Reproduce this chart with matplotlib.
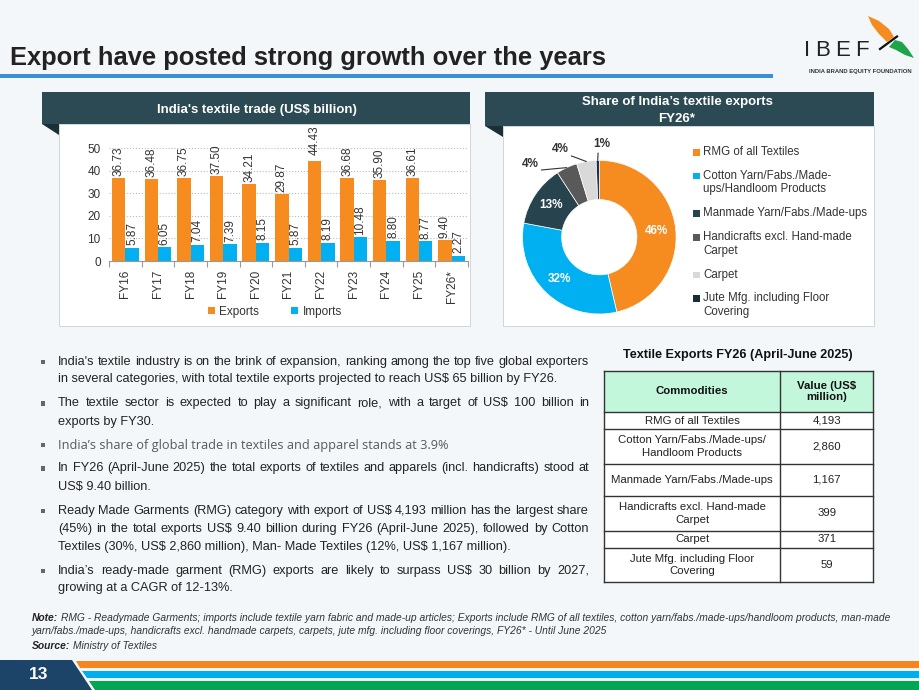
import numpy as np
import matplotlib.pyplot as plt
from matplotlib.patches import Rectangle, Polygon

plt.rcParams['font.family'] = ['Liberation Sans', 'DejaVu Sans']
plt.rcParams['text.parse_math'] = False

# ---- data ----
years = ['FY16', 'FY17', 'FY18', 'FY19', 'FY20', 'FY21', 'FY22', 'FY23', 'FY24', 'FY25', 'FY26*']
exports = [36.73, 36.48, 36.75, 37.50, 34.21, 29.87, 44.43, 36.68, 35.90, 36.61, 9.40]
imports = [5.87, 6.05, 7.04, 7.39, 8.15, 5.87, 8.19, 10.48, 8.80, 8.77, 2.27]
# label lift above the bar top (value units), FY22 label sits a bit higher in the original
export_lift = [0.9, 0.9, 0.9, 0.9, 0.9, 0.9, 2.6, 0.9, 0.9, 0.9, 0.9]

share_values = [4193, 2860, 1167, 399, 371, 59]
legend_labels = ['RMG of all Textiles',
                 'Cotton Yarn/Fabs./Made-\nups/Handloom Products',
                 'Manmade Yarn/Fabs./Made-ups',
                 'Handicrafts excl. Hand-made\nCarpet',
                 'Carpet',
                 'Jute Mfg. including Floor\nCovering']
table_labels = ['RMG of all Textiles',
                'Cotton Yarn/Fabs./Made-ups/\nHandloom Products',
                'Manmade Yarn/Fabs./Made-ups',
                'Handicrafts excl. Hand-made\nCarpet',
                'Carpet',
                'Jute Mfg. including Floor\nCovering']
share_colors = ['#F68B1F', '#00B0F0', '#27434D', '#595959', '#D9D9D9', '#1C2B3C']

bullets = [
    ["India's textile industry is on the brink of expansion, ranking among the top five global exporters",
     "in several categories, with total textile exports projected to reach US$ 65 billion by FY26."],
    ["The textile sector is expected to play a significant role, with a target of US$ 100 billion in",
     "exports by FY30."],
    ["India\u2019s share of global trade in textiles and apparel stands at 3.9%"],
    ["In FY26 (April-June 2025) the total exports of textiles and apparels (incl. handicrafts) stood at",
     "US$ 9.40 billion."],
    ["Ready Made Garments (RMG) category with export of US$ 4,193 million has the largest share",
     "(45%) in the total exports US$ 9.40 billion during FY26 (April-June 2025), followed by Cotton",
     "Textiles (30%, US$ 2,860 million), Man- Made Textiles (12%, US$ 1,167 million)."],
    ["India\u2019s ready-made garment (RMG) exports are likely to surpass US$ 30 billion by 2027,",
     "growing at a CAGR of 12-13%."],
]
bullet_y = [[361.7, 379.3], [403.3, 421.7], [445], [468.3, 486.7], [510.7, 529, 547.3], [570.7, 588.3]]

BG = '#f4f7f9'
HEAD = '#2B4A54'
FOLD = '#1B2F36'
ORANGE = '#F68B1F'
BLUE = '#00B0F0'

fig = plt.figure(figsize=(9.2, 6.9), dpi=100, facecolor=BG)
bg = fig.add_axes([0, 0, 1, 1])
bg.set_xlim(0, 920)
bg.set_ylim(690, 0)
bg.axis('off')
renderer = fig.canvas.get_renderer()


def box(x0, y0, x1, y1, **kw):
    bg.add_patch(Rectangle((x0, y0), x1 - x0, y1 - y0, **kw))


def put_line(x0, x1, y, s, justify=False, **kw):
    if not justify:
        bg.text(x0, y, s, va='center', **kw)
        return
    words = s.split(' ')
    ts = [bg.text(0, y, w, va='center', **kw) for w in words]
    ws = [t.get_window_extent(renderer).width for t in ts]
    gap = (x1 - x0 - sum(ws)) / (len(ws) - 1)
    x = x0
    for t, w in zip(ts, ws):
        t.set_x(x)
        x += w + gap


# ---- title + logo ----
bg.text(10, 65.5, 'Export have posted strong growth over the years', fontsize=18.4,
        fontweight='bold', color='#222222', va='baseline')
box(0, 74, 773, 77.5, color='#3B8FD2', lw=0)
for ch, x in zip('IBEF', [804.5, 815, 835.5, 855.5]):
    bg.text(x, 55.5, ch, fontsize=16, color='#222222', va='baseline')
bg.text(860.5, 71.3, 'INDIA BRAND EQUITY FOUNDATION', fontsize=4.2, fontweight='bold',
        color='#333333', ha='center', va='center')
bg.add_patch(Polygon([(868, 16), (879, 21), (889, 29), (894, 37), (887, 42), (879, 34), (872, 25)],
                     closed=True, color='#F68B1F', lw=0))
bg.add_patch(Polygon([(895, 40), (902, 42), (908, 49), (914, 58), (905, 55), (896, 50), (889, 47)],
                     closed=True, color='#1EA54B', lw=0))
bg.plot([880, 897], [49, 36.5], color='#111111', lw=1.6)

# ---- panels ----
box(59, 124, 470, 326, facecolor='white', edgecolor='#c8d0d4', lw=0.6)
box(42, 91.7, 470, 124.3, color=HEAD, lw=0)
bg.add_patch(Polygon([(42, 124.3), (59, 124.3), (59, 135)], closed=True, color=FOLD, lw=0))
bg.text(256.7, 109.5, "India's textile trade (US$ billion)", fontsize=9.5, fontweight='bold',
        color='white', ha='center', va='center')

box(502.7, 126, 874, 326, facecolor='white', edgecolor='#c8d0d4', lw=0.6)
box(485, 92.3, 874, 126, color=HEAD, lw=0)
bg.add_patch(Polygon([(485, 126), (502.7, 126), (502.7, 137)], closed=True, color=FOLD, lw=0))
bg.text(677, 101.7, 'Share of India\u2019s textile exports', fontsize=9.5, fontweight='bold',
        color='white', ha='center', va='center')
bg.text(677, 119.5, 'FY26*', fontsize=9.5, fontweight='bold', color='white', ha='center', va='center')

# ---- bar chart ----
ax = fig.add_axes([109 / 920, 1 - 261 / 690, 359 / 920, 112.7 / 690])
ax.patch.set_alpha(0)
x = np.arange(len(years))
w = 0.41
b1 = ax.bar(x - w / 2, exports, w, color=ORANGE, label='Exports')
b2 = ax.bar(x + w / 2, imports, w, color=BLUE, label='Imports')
for xi, v, lift in zip(x, exports, export_lift):
    ax.text(xi - w / 2, v + lift, f'{v:.2f}', rotation=90, ha='center', va='bottom',
            fontsize=8.5, color='#333333', clip_on=False)
for xi, v in zip(x, imports):
    ax.text(xi + w / 2, v + 1.2, f'{v:.2f}', rotation=90, ha='center', va='bottom',
            fontsize=8.5, color='#333333', clip_on=False)
ax.set_xlim(-0.5, len(years) - 0.5)
ax.set_ylim(0, 50)
ax.set_yticks([0, 10, 20, 30, 40, 50])
ax.set_xticks(x)
ax.set_xticklabels(years, rotation=90, fontsize=8.5, color='#333333')
ax.set_xticks(np.arange(-0.5, len(years), 1), minor=True)
ax.tick_params(axis='x', which='major', length=0, pad=6.5)
ax.tick_params(axis='x', which='minor', length=4, color='#999999', width=0.8)
ax.tick_params(axis='y', length=0, pad=6, labelsize=8.5, labelcolor='#333333')
ax.grid(axis='y', linestyle=':', color='#bbbbbb', lw=0.8)
ax.set_axisbelow(True)
for s in ['top', 'right', 'left']:
    ax.spines[s].set_visible(False)
ax.spines['bottom'].set_color('#999999')
ax.spines['bottom'].set_linewidth(0.8)
ax.legend(handles=[b1, b2], ncol=2, loc='center', bbox_to_anchor=(275 / 920, 1 - 311.7 / 690),
          bbox_transform=fig.transFigure, frameon=False, fontsize=8.5, handlelength=0.6,
          handleheight=0.6, handletextpad=0.4, columnspacing=2.7, labelcolor='#333333')

# ---- donut ----
pax = fig.add_axes([522.5 / 920, 1 - 314 / 690, 153.6 / 920, 153.6 / 690])
wedges, _ = pax.pie(share_values, colors=share_colors, startangle=90, counterclock=False,
                    radius=1, wedgeprops=dict(width=0.51, edgecolor='white', linewidth=0.5))
pax.set_xlim(-1, 1)
pax.set_ylim(-1, 1)
total = sum(share_values)
pct = [round(v / total * 100) for v in share_values]
mids = [np.deg2rad((wd.theta1 + wd.theta2) / 2) for wd in wedges]
for i in range(3):
    pax.text(0.75 * np.cos(mids[i]), 0.75 * np.sin(mids[i]), f'{pct[i]}%', ha='center',
             va='center', fontsize=8.5, fontweight='bold', color='white')
outer = [(3, (-0.90, 0.95), (1, 0)), (4, (-0.51, 1.15), (1, 0)), (5, (0.03, 1.21), (0.3, 0))]
for i, pos, rp in outer:
    pax.annotate(f'{pct[i]}%', xy=(np.cos(mids[i]), np.sin(mids[i])), xytext=pos,
                 ha='center', va='center', fontsize=8.5, fontweight='bold', color='#333333',
                 annotation_clip=False,
                 arrowprops=dict(arrowstyle='-', color='#333333', lw=0.8, relpos=rp,
                                 shrinkA=0, shrinkB=0))

leg_y = [152.3, 176, 213.3, 237.3, 275, 298.3]
for lab, c, y in zip(legend_labels, share_colors, leg_y):
    box(693.3, y - 3.4, 700, y + 3.4, color=c, lw=0)
    for k, ln in enumerate(lab.split('\n')):
        bg.text(703.3, y + k * 13.3, ln, fontsize=8.3, color='#333333', va='center')

# ---- bullets ----
for lines, ys in zip(bullets, bullet_y):
    special = lines[0].startswith('India\u2019s share')
    box(41, ys[0] - 2.2, 45, ys[0] + 2.2, color='#666666', lw=0)
    for j, (ln, y) in enumerate(zip(lines, ys)):
        if special:
            put_line(58, 589, y, ln, False, fontsize=9.2, color='#595959', family='Open Sans')
        else:
            put_line(58, 589, y, ln, j < len(lines) - 1, fontsize=9.2, color='#222222')

# ---- table ----
bg.text(738, 355, 'Textile Exports FY26 (April-June 2025)', fontsize=9.1, fontweight='bold',
        color='#111111', ha='center', va='center')
rows = [371, 411.7, 429.3, 464, 496, 530.7, 548.3, 581.7]
tx0, tdiv, tx1 = 604.3, 780, 873.3
box(tx0, rows[0], tx1, rows[1], facecolor='#C3F7DC', lw=0)
box(tx0, rows[1], tx1, rows[-1], facecolor='white', lw=0)
for y in rows:
    bg.plot([tx0, tx1], [y, y], color='#333333', lw=1.0)
bg.plot([tx0, tx0], [rows[0], rows[-1]], color='#333333', lw=1.0)
bg.plot([tdiv, tdiv], [rows[0], rows[-1]], color='#333333', lw=1.0)
bg.plot([tx1, tx1], [rows[0], rows[-1]], color='#333333', lw=1.0)
bg.text((tx0 + tdiv) / 2, (rows[0] + rows[1]) / 2, 'Commodities', fontsize=8.2, fontweight='bold',
        ha='center', va='center', color='#111111')
bg.text((tdiv + tx1) / 2, (rows[0] + rows[1]) / 2, 'Value (US$\nmillion)', fontsize=8.2,
        fontweight='bold', ha='center', va='center', color='#111111', linespacing=1.15)
for i, (lab, v) in enumerate(zip(table_labels, share_values)):
    yc = (rows[i + 1] + rows[i + 2]) / 2
    bg.text((tx0 + tdiv) / 2, yc, lab, fontsize=8.2, ha='center', va='center', color='#222222',
            linespacing=1.3)
    bg.text((tdiv + tx1) / 2, yc, f'{v:,}', fontsize=8.2, ha='center', va='center', color='#222222')

# ---- notes ----
nt = bg.text(32, 618.3, 'Note:', fontsize=7.4, fontweight='bold', style='italic', color='#222222',
             va='center')
nw = nt.get_window_extent(renderer).width
bg.text(32 + nw + 2.5, 618.3, 'RMG - Readymade Garments; imports include textile yarn fabric and '
        'made-up articles; Exports include RMG of all textiles, cotton yarn/fabs./made-ups/handloom '
        'products, man-made', fontsize=7.4, style='italic', color='#333333', va='center')
bg.text(32, 630.7, 'yarn/fabs./made-ups, handicrafts excl. handmade carpets, carpets, jute mfg. '
        'including floor coverings, FY26* - Until June 2025', fontsize=7.4, style='italic',
        color='#333333', va='center')
st = bg.text(32, 645.7, 'Source:', fontsize=7.4, fontweight='bold', style='italic',
             color='#222222', va='center')
sw = st.get_window_extent(renderer).width
bg.text(32 + sw + 2.5, 645.7, 'Ministry of Textiles', fontsize=7.4, style='italic',
        color='#333333', va='center')

# ---- footer ----
def slant(y):
    return 72 + (y - 660) * 20 / 30 + 3


for (y0, y1), c in zip([(661, 668), (671, 678), (681, 690)], ['#F5861F', '#00AEEF', '#00A651']):
    bg.add_patch(Polygon([(slant(y0), y0), (920, y0), (920, y1), (slant(y1), y1)],
                         closed=True, color=c, lw=0))
bg.add_patch(Polygon([(0, 660), (72, 660), (92, 690), (0, 690)], closed=True, color='#1B4468', lw=0))
bg.text(38.3, 674.5, '13', fontsize=12.5, fontweight='bold', color='white', ha='center', va='center')

fig.savefig('out.png', dpi=100, facecolor=fig.get_facecolor())
